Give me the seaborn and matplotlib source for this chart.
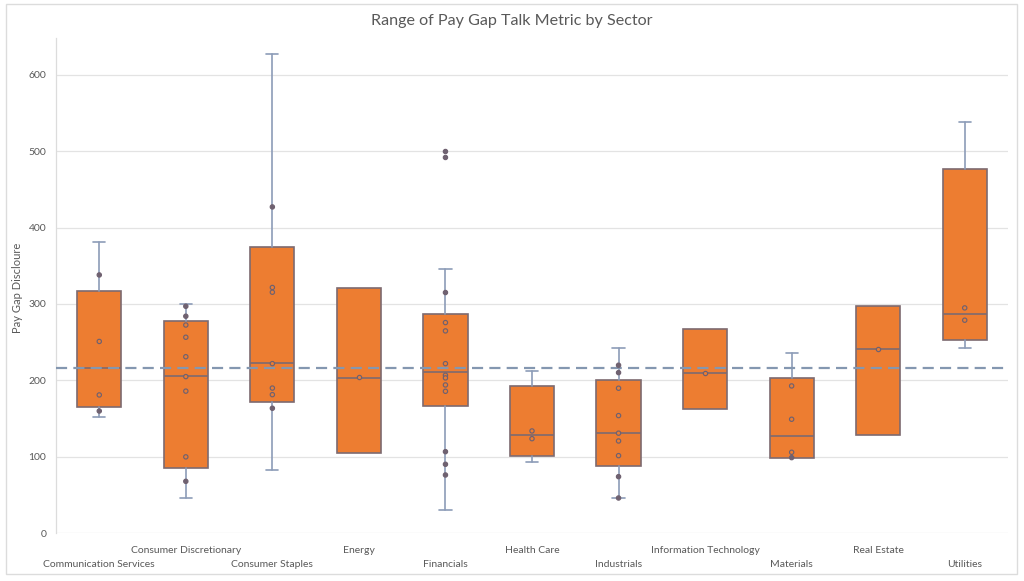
import numpy as np
import pandas as pd
import matplotlib
matplotlib.use("Agg")
import matplotlib.pyplot as plt
import matplotlib.transforms as mtransforms
import seaborn as sns
from matplotlib.patches import Rectangle

# ---------------- data ----------------
sectors = ["Communication Services", "Consumer Discretionary", "Consumer Staples",
           "Energy", "Financials", "Health Care", "Industrials",
           "Information Technology", "Materials", "Real Estate", "Utilities"]

q1      = [165.7,  85.5, 172.3, 104.7, 166.6, 101.2,  88.1, 162.3,  99.0, 128.7, 252.6]
median  = [216.8, 205.9, 222.9, 203.8, 210.7, 129.1, 130.9, 210.2, 127.8, 241.7, 287.0]
q3      = [317.1, 278.3, 374.7, 321.0, 287.5, 193.2, 200.0, 267.8, 203.7, 297.5, 476.8]
whis_lo = [151.8,  46.2,  82.9, 104.7,  30.5,  92.9,  46.2, 162.3,  99.0, 128.7, 243.0]
whis_hi = [380.9, 299.7, 627.4, 321.0, 346.4, 212.8, 242.1, 267.8, 236.0, 297.5, 538.0]

pts_comm = [338, 251, 181, 160]
pts_disc = [297, 284, 272.5, 256.5, 231, 205, 186, 100, 68]
pts_stap = [427, 321.6, 315.4, 222, 190, 181.4, 163.6]
pts_ener = [204]
pts_fin  = [499.5, 491.7, 315, 275.7, 264.8, 222, 206.8, 203.3, 194.1, 185.8, 106.8, 90.3, 76.3]
pts_hc   = [133.9, 123.8]
pts_ind  = [219.9, 210.2, 189.8, 154, 131, 120.8, 101.6, 74.1, 46.2]
pts_it   = [210.2]
pts_mat  = [192.8, 149.2, 106, 99]
pts_re   = [241.7]
pts_util = [294.9, 278.8]
sector_points = [pts_comm, pts_disc, pts_stap, pts_ener, pts_fin, pts_hc,
                 pts_ind, pts_it, pts_mat, pts_re, pts_util]

overall_mean = 216

yticks = [0, 100, 200, 300, 400, 500, 600]

# ---------------- style ----------------
ORANGE = "#ED7D31"
BOX_EDGE = "#7d6a70"
WHISK = "#8c9cb8"
DOT = "#6f6170"
TXT = "#595959"

sns.set_theme(style="white")
plt.rcParams["font.family"] = ["Lato", "DejaVu Sans"]

fig = plt.figure(figsize=(10.24, 5.81), dpi=100)
fig.patch.set_facecolor("white")
ax = fig.add_axes([56 / 1024, (581 - 533.3) / 581, 952 / 1024, (533.3 - 38) / 581])

# chart-area border
fig.patches.append(Rectangle((6 / 1024, (581 - 574) / 581), 1011 / 1024, 570 / 581,
                             transform=fig.transFigure, fill=False,
                             edgecolor="#dcdcdc", linewidth=1.0))

# ---------------- boxes ----------------
stats = [dict(med=m, q1=a, q3=b, whislo=wl, whishi=wh, fliers=[], label=s)
         for s, a, m, b, wl, wh in zip(sectors, q1, median, q3, whis_lo, whis_hi)]
bp = ax.bxp(stats, positions=list(range(len(sectors))), widths=0.51, capwidths=0.14,
            patch_artist=True, showfliers=False,
            boxprops=dict(facecolor=ORANGE, edgecolor=BOX_EDGE, linewidth=1.2),
            whiskerprops=dict(color=WHISK, linewidth=1.2),
            capprops=dict(color=WHISK, linewidth=1.2),
            medianprops=dict(color=BOX_EDGE, linewidth=1.2),
            zorder=2)
for i in range(len(sectors)):
    if whis_lo[i] >= q1[i]:
        bp["caps"][2 * i].set_visible(False)
        bp["whiskers"][2 * i].set_visible(False)
    if whis_hi[i] <= q3[i]:
        bp["caps"][2 * i + 1].set_visible(False)
        bp["whiskers"][2 * i + 1].set_visible(False)

# ---------------- mean line ----------------
ax.axhline(overall_mean, color="#8497b0", linestyle=(0, (5, 2.8)), linewidth=1.6, zorder=3)

# ---------------- points ----------------
rows = []
for s, vals, lo, hi in zip(sectors, sector_points, q1, q3):
    for v in vals:
        rows.append({"Sector": s, "Value": v, "inside": "in" if lo < v < hi else "out"})
df = pd.DataFrame(rows)
sns.stripplot(data=df, x="Sector", y="Value", hue="inside", order=sectors,
              hue_order=["in", "out"], palette={"in": ORANGE, "out": DOT},
              jitter=False, size=3.1, linewidth=0.85, edgecolor=DOT,
              legend=False, ax=ax, zorder=4)

# ---------------- axes ----------------
ax.set_xlim(-0.5, len(sectors) - 0.5)
ax.set_ylim(0, 648)
ax.set_yticks(yticks)
ax.set_yticklabels([str(t) for t in yticks])
ax.yaxis.grid(True, color="#e3e3e3", linewidth=0.9)
ax.xaxis.grid(False)
ax.set_axisbelow(True)
for side in ["top", "right", "bottom"]:
    ax.spines[side].set_visible(False)
ax.spines["left"].set_color("#dcdcdc")
ax.spines["left"].set_linewidth(0.9)

ax.set_xticks(list(range(len(sectors))))
ax.set_xticklabels(sectors)
ax.tick_params(axis="both", length=0, labelsize=7.5, labelcolor=TXT)
ax.tick_params(axis="x", pad=9)
ax.tick_params(axis="y", pad=7)
ax.set_xlabel("")
ax.set_ylabel("")

# stagger the category labels on two rows (even ones lower), like the reference
shift = mtransforms.ScaledTranslation(0, -14 / 100, fig.dpi_scale_trans)
for i, lab in enumerate(ax.get_xticklabels()):
    if i % 2 == 0:
        lab.set_transform(lab.get_transform() + shift)

fig.text(18 / 1024, 1 - 288 / 581, "Pay Gap Discloure", rotation=90,
         ha="center", va="center", fontsize=8, color=TXT)
fig.text(0.5, 1 - 21 / 581, "Range of Pay Gap Talk Metric by Sector",
         ha="center", va="center", fontsize=11.6, color=TXT)

fig.savefig("out.png", dpi=100, facecolor="white")
